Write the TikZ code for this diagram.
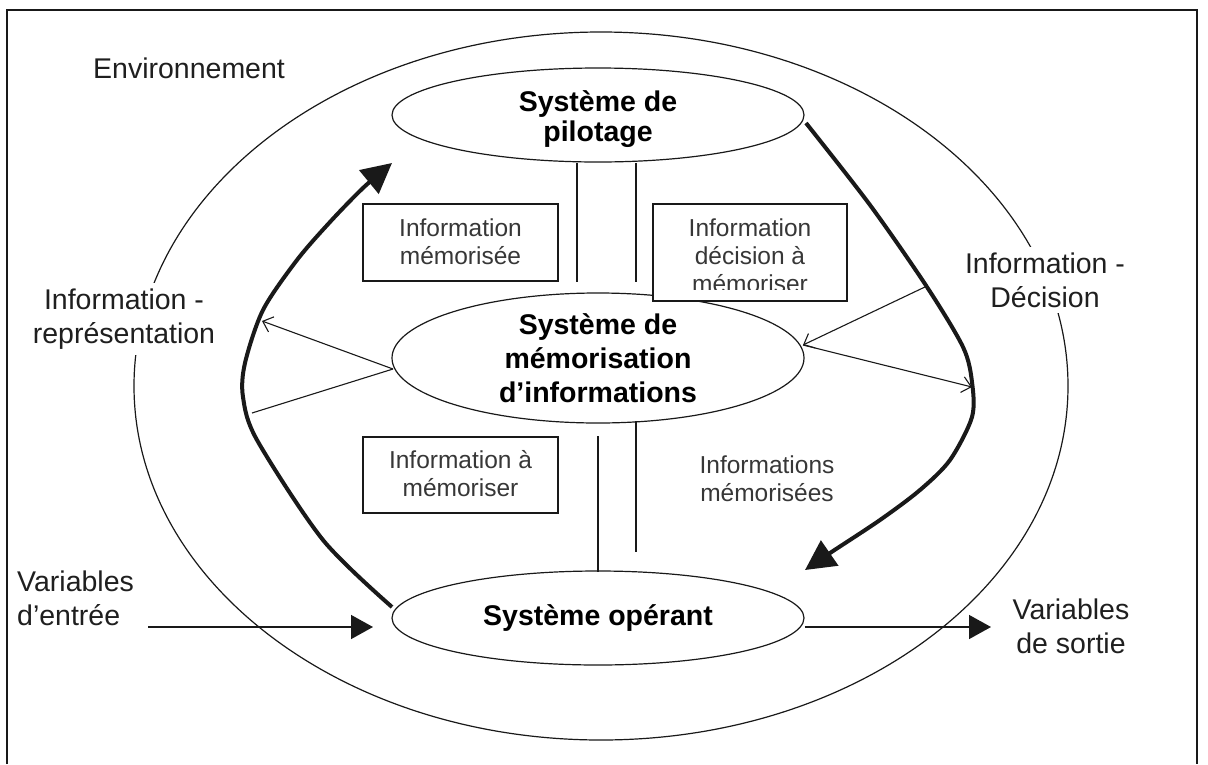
\documentclass[tikz,border=0pt]{standalone}
\usepackage{fontspec}
\setmainfont{Liberation Sans}
\usetikzlibrary{arrows.meta,shapes.geometric}
\definecolor{boxtext}{RGB}{55,55,55}
\definecolor{linecol}{RGB}{25,25,25}
\begin{document}
\begin{tikzpicture}[x=1pt,y=-1pt,
  outerell/.style={draw=linecol, line width=1.2pt},
  sysell/.style={ellipse, draw=linecol, line width=1.2pt, fill=white, minimum width=412pt, minimum height=94pt, inner sep=0pt, font=\fontsize{28.5}{31}\selectfont\bfseries, align=center},
  infobox/.style={draw=linecol, line width=1.2pt, fill=white, minimum width=195pt, inner sep=0pt},
  boxtxt/.style={font=\fontsize{24.5}{28}\selectfont, text=boxtext, align=center, inner sep=0pt},
  lbltxt/.style={font=\fontsize{28.5}{34}\selectfont, fill=white, inner xsep=4pt, inner ysep=6pt, text=black!88},
  bararrow/.style={line width=4pt, linecol, -{Triangle[length=30pt,width=30pt]}},
  thinline/.style={line width=1.1pt, linecol},
  thinarrow/.style={thinline, -{Straight Barb[length=9pt,width=16pt]}},
  flowarrow/.style={line width=1.5pt, linecol, -{Triangle[length=22pt,width=24pt]}},
]
\useasboundingbox (0,0) rectangle (1208,764);
\fill[white] (0,0) rectangle (1208,764);
% frame
\draw[line width=1.2pt, linecol] (7,764) -- (7,10) -- (1197,10) -- (1197,764);
% environment ellipse
\draw[outerell] (601,386) ellipse [x radius=467pt, y radius=354pt];
% labels (white background hides the ellipse behind them)
\node[lbltxt, anchor=west] (env) at (89,68) {Environnement};
\node[lbltxt, align=center] (irep) at (124,319) {Information -\\représentation};
\node[lbltxt, align=center] (idec) at (1045,280) {Information -\\Décision};
\node[lbltxt, align=left, anchor=west] (vin) at (13,598) {Variables\\d’entrée};
\node[lbltxt, align=center] (vout) at (1071,626) {Variables\\de sortie};
% systems
\node[sysell] (pil) at (598,115) {};
\node[font=\fontsize{28.5}{30}\selectfont\bfseries, align=center, inner sep=0pt] (pilt) at (598,119) {Système de\\pilotage};
\node[sysell, minimum height=130pt, font=\fontsize{28.5}{34}\selectfont\bfseries] (mem) at (598,358) {Système de\\mémorisation\\d’informations};
\node[sysell] (op) at (598,618) {Système opérant};
% boxes
\node[infobox, minimum height=77pt] (b1) at (460.5,242.5) {};
\node[boxtxt] (b1t) at (460.5,242) {Information\\mémorisée};
\node[infobox, minimum width=194pt, minimum height=97pt] (b2) at (750,252.5) {};
\begin{scope}
  \clip (654,205) rectangle (846,289);
  \node[boxtxt] (b2t) at (750,256) {Information\\décision à\\mémoriser};
\end{scope}
\node[infobox, minimum height=76pt] (b3) at (460.5,475) {};
\node[boxtxt] (b3t) at (460.5,474) {Information à\\mémoriser};
\node[boxtxt] (imt) at (767,479) {Informations\\mémorisées};
% parallel bars
\draw[thinline] (577,163) -- (577,282);
\draw[thinline] (636,163) -- (636,282);
\draw[thinline] (598,436) -- (598,572);
\draw[thinline] (636,421) -- (636,552);
% coordinates on the big curves
\coordinate (ltip) at (392,163);
\coordinate (rtip) at (805,570);
\coordinate (l1) at (262,321);
\coordinate (l2) at (252,413);
\coordinate (m1) at (393,369);
\coordinate (r1) at (927,286);
\coordinate (r2) at (972,387);
\coordinate (m2) at (803,345);
% thick curved arrows
\draw[bararrow] plot[smooth, tension=0.5] coordinates {(392,607) (323,540) (257,440) (243,397) (245,363) (263,310) (297,260) (330,222) (363,188) (ltip)};
\draw[bararrow] plot[smooth, tension=0.5] coordinates {(806,123) (870,205) (927,287) (963,347) (972,382) (972,417) (950,460) (920,490) (880,520) (830,553) (rtip)};
% thin arrows
\draw[thinarrow] (m1) -- (l1);
\draw[thinline] (m1) -- (l2);
\draw[thinarrow] (r1) -- (m2);
\draw[thinarrow] (m2) -- (r2);
% input / output
\coordinate (vinend) at (148,627);
\coordinate (voutend) at (991,627);
\draw[flowarrow] (vinend) -- (373,627);
\draw[flowarrow] (op.east |- voutend) -- (voutend);
\end{tikzpicture}
\end{document}
